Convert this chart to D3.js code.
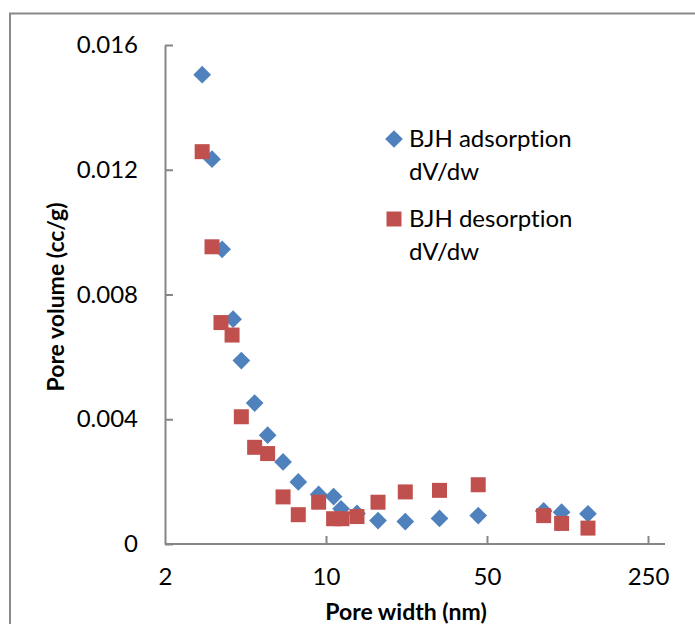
<!DOCTYPE html>
<html>
<head>
<meta charset="utf-8">
<script src="https://cdn.jsdelivr.net/npm/d3@7"></script>
<style>
  html, body { margin: 0; padding: 0; background: #fff; }
  svg { display: block; }
  text { font-family: Lato, "Open Sans", sans-serif; fill: #000;
         font-variant-ligatures: none; font-feature-settings: "liga" 0, "clig" 0; }
</style>
</head>
<body>
<svg id="chart" width="695" height="624"></svg>
<script>
// Pore width (nm) for each BJH point
const poreWidth = [2.90, 3.20, 3.54, 3.95, 4.29, 4.90, 5.58, 6.51, 7.58, 9.29,
                   10.79, 11.62, 13.63, 16.82, 22.09, 31.1, 45.8, 88.1, 105.4, 137.2];
const desorptionWidth = [2.90, 3.20, 3.50, 3.91, 4.29, 4.90, 5.58, 6.51, 7.58, 9.29,
                         10.79, 11.73, 13.63, 16.82, 22.09, 31.1, 45.8, 88.1, 105.4, 137.2];
// dV/dw pore volume (cc/g)
const adsorption = [0.01505, 0.01234, 0.00945, 0.00721, 0.00588, 0.00452, 0.00349, 0.00263, 0.00199, 0.00159,
                    0.00152, 0.00113, 0.00098, 0.00075, 0.00072, 0.00082, 0.00091, 0.00106, 0.00102, 0.00097];
const desorption = [0.01258, 0.00953, 0.00710, 0.00670, 0.00408, 0.00310, 0.00290, 0.00151, 0.00094, 0.00134,
                    0.00081, 0.00081, 0.00088, 0.00134, 0.00167, 0.00172, 0.00190, 0.00091, 0.00066, 0.00051];
const xTicks = [2, 10, 50, 250];
const yTicks = [0, 0.004, 0.008, 0.012, 0.016];
const seriesNames = ["BJH adsorption", "BJH desorption"];

const svg = d3.select("#chart");
const axisColor = "#868686";
const blue = "#4F81BD", red = "#C0504D";

// chart area frame
svg.append("rect")
  .attr("x", 10).attr("y", 13.5)
  .attr("width", 720).attr("height", 640)
  .attr("fill", "none").attr("stroke", "#8a8a8a").attr("stroke-width", 2);

const x = d3.scaleLog().domain([2, 250]).range([165, 648]);
const y = d3.scaleLinear().domain([0, 0.016]).range([544, 45]);
const xEnd = 665;

// y axis
const yAxis = svg.append("g").attr("transform", `translate(${x(2)},0)`)
  .call(d3.axisLeft(y).tickValues(yTicks).tickSizeInner(-8).tickSizeOuter(0)
        .tickFormat(d => d === 0 ? "0" : d3.format(".3f")(d)).tickPadding(27));
yAxis.select(".domain").attr("stroke", axisColor).attr("stroke-width", 2);
yAxis.selectAll(".tick line").attr("stroke", axisColor).attr("stroke-width", 2);
yAxis.selectAll(".tick text").attr("font-size", 24).attr("font-family", "Lato").attr("fill", "#000");

// x axis
const xAxis = svg.append("g").attr("transform", `translate(0,${y(0)})`)
  .call(d3.axisBottom(x).tickValues(xTicks).tickSizeInner(-8).tickSizeOuter(0)
        .tickFormat(d3.format("d")).tickPadding(24));
xAxis.select(".domain").remove();
xAxis.append("line").attr("x1", x(2)).attr("x2", xEnd).attr("y1", 0).attr("y2", 0)
  .attr("stroke", axisColor).attr("stroke-width", 2);
xAxis.selectAll(".tick line").attr("stroke", axisColor).attr("stroke-width", 2)
  .attr("display", d => d === 2 ? "none" : null);
xAxis.selectAll(".tick text").attr("font-size", 24).attr("font-family", "Lato").attr("fill", "#000");

// axis titles
svg.append("text")
  .attr("transform", `translate(64,297) rotate(-90)`)
  .attr("text-anchor", "middle")
  .attr("font-size", 23).attr("font-weight", "bold")
  .text("Pore volume (cc/g)");
svg.append("text")
  .attr("x", 406).attr("y", 620)
  .attr("text-anchor", "middle")
  .attr("font-size", 23).attr("font-weight", "bold")
  .text("Pore width (nm)");

const diamond = d3.symbol().type(d3.symbolDiamond2).size(200);
const square = d3.symbol().type(d3.symbolSquare).size(225);

// adsorption points (diamonds)
svg.append("g").selectAll("path")
  .data(poreWidth.map((w, i) => [w, adsorption[i]]))
  .join("path")
  .attr("d", diamond)
  .attr("transform", d => `translate(${x(d[0])},${y(d[1])})`)
  .attr("fill", blue);

// desorption points (squares), drawn on top
svg.append("g").selectAll("path")
  .data(desorptionWidth.map((w, i) => [w, desorption[i]]))
  .join("path")
  .attr("d", square)
  .attr("transform", d => `translate(${x(d[0])},${y(d[1])})`)
  .attr("fill", red);

// legend
const legend = svg.append("g");
const entries = [
  { name: seriesNames[0], sym: diamond, color: blue, y: 139 },
  { name: seriesNames[1], sym: square, color: red, y: 219 }
];
entries.forEach(e => {
  legend.append("path").attr("d", e.sym).attr("fill", e.color)
    .attr("transform", `translate(394,${e.y})`);
  const t = legend.append("text").attr("x", 409).attr("y", e.y + 8).attr("font-size", 24);
  t.append("tspan").attr("x", 409).text(e.name);
  t.append("tspan").attr("x", 409).attr("dy", 33).text("dV/dw");
});
</script>
</body>
</html>
